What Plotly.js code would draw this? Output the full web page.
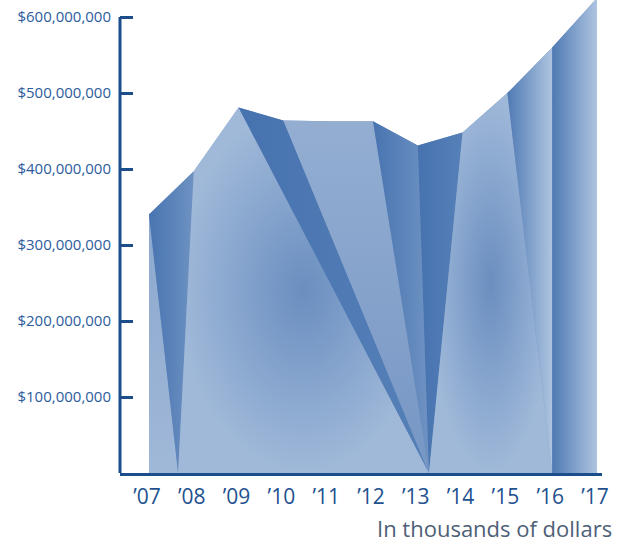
<!DOCTYPE html>
<html>
<head>
<meta charset="utf-8">
<script src="https://cdn.plot.ly/plotly-3.0.1.min.js"></script>
<style>
  html, body { margin: 0; padding: 0; background: #ffffff; }
  #chart { width: 632px; height: 543px; }
</style>
</head>
<body>
<div id="chart"></div>
<script>
// ---- data ----
const years = [2007, 2008, 2009, 2010, 2011, 2012, 2013, 2014, 2015, 2016, 2017];
const yearLabels = ["\u201907", "\u201908", "\u201909", "\u201910", "\u201911", "\u201912", "\u201913", "\u201914", "\u201915", "\u201916", "\u201917"];
const values = [340e6, 397e6, 481e6, 464e6, 463e6, 463e6, 431e6, 448e6, 500e6, 560e6, 625e6];
const yTickVals = [100e6, 200e6, 300e6, 400e6, 500e6, 600e6];
const yTickText = ["$100,000,000", "$200,000,000", "$300,000,000", "$400,000,000", "$500,000,000", "$600,000,000"];
// fold anchors on the baseline (year units) used for the folded-paper look
const foldBase = [2007.65, 2013.25, 2016];
// each panel: range of top points (indices), left/right base anchors, shade key
const panelTop = [[0, 0], [0, 1], [1, 2], [2, 3], [3, 5], [5, 6], [6, 7], [7, 8], [8, 9], [9, 10]];
const panelBase = [
  [years[0], foldBase[0]], [foldBase[0], foldBase[0]], [foldBase[0], foldBase[1]],
  [foldBase[1], foldBase[1]], [foldBase[1], foldBase[1]], [foldBase[1], foldBase[1]],
  [foldBase[1], foldBase[1]], [foldBase[1], foldBase[2]], [foldBase[2], foldBase[2]],
  [foldBase[2], years[10]]
];
const panelShade = ["sliver", "darkL", "glow", "dark", "mid", "darkL", "dark", "glow", "fade", "fade"];

// ---- styles ----
const shades = {
  sliver: { type: "vertical", colorscale: [[0, "rgb(160,184,216)"], [1, "rgb(140,168,206)"]] },
  darkL:  { type: "horizontal", colorscale: [[0, "rgb(72,116,176)"], [1, "rgb(110,146,194)"]] },
  glow:   { type: "radial", colorscale: [[0, "rgb(106,142,192)"], [1, "rgb(160,185,217)"]] },
  dark:   { type: "horizontal", colorscale: [[0, "rgb(70,114,175)"], [1, "rgb(86,128,183)"]] },
  mid:    { type: "vertical", colorscale: [[0, "rgb(118,150,196)"], [1, "rgb(148,174,210)"]] },
  fade:   { type: "horizontal", colorscale: [[0, "rgb(80,122,180)"], [1, "rgb(174,196,224)"]] }
};
const navy = "#1d4e8c";

const traces = [];
// base fill to hide seams
traces.push({
  x: years, y: values, type: "scatter", mode: "none",
  fill: "tozeroy", fillcolor: "rgb(122,154,199)", hoverinfo: "skip"
});
panelTop.forEach((tp, i) => {
  const xs = [panelBase[i][0]];
  const ys = [0];
  for (let k = tp[0]; k <= tp[1]; k++) { xs.push(years[k]); ys.push(values[k]); }
  xs.push(panelBase[i][1]); ys.push(0);
  traces.push({
    x: xs, y: ys, type: "scatter", mode: "lines",
    line: { width: 0 }, fill: "toself",
    fillgradient: shades[panelShade[i]], hoverinfo: "skip"
  });
});

const layout = {
  width: 632, height: 543,
  margin: { l: 120, r: 30, t: 0, b: 70, pad: 0 },
  paper_bgcolor: "#ffffff", plot_bgcolor: "#ffffff",
  showlegend: false, hovermode: false,
  font: { family: "Open Sans, sans-serif" },
  xaxis: {
    range: [2006.353, 2017.112], fixedrange: true,
    tickvals: years, ticktext: yearLabels, ticks: "",
    showgrid: false, zeroline: false,
    showline: true, linecolor: navy, linewidth: 3,
    tickfont: { family: "Open Sans, sans-serif", size: 21, color: "#23518f" },
    ticklabelstandoff: 3, ticklabelshift: -2
  },
  yaxis: {
    range: [0, 622.4e6], fixedrange: true,
    tickvals: yTickVals, ticktext: yTickText,
    ticks: "inside", ticklen: 13, tickwidth: 3, tickcolor: navy,
    showgrid: false, zeroline: false, showline: false,
    tickfont: { family: "Open Sans, sans-serif", size: 15, color: "#2c5c9c" },
    ticklabelstandoff: 8
  },
  shapes: [{
    type: "line", xref: "paper", yref: "y",
    x0: 0, x1: 0, y0: -2e6, y1: 600e6,
    line: { color: navy, width: 3 }
  }],
  annotations: [{
    text: "In thousands of dollars", xref: "paper", yref: "paper",
    x: 1.025, y: -0.116, xanchor: "right", yanchor: "middle",
    showarrow: false,
    font: { family: "Open Sans, sans-serif", size: 22, color: "#4e5f78" }
  }]
};

Plotly.newPlot("chart", traces, layout, { displayModeBar: false, staticPlot: true });
</script>
</body>
</html>
